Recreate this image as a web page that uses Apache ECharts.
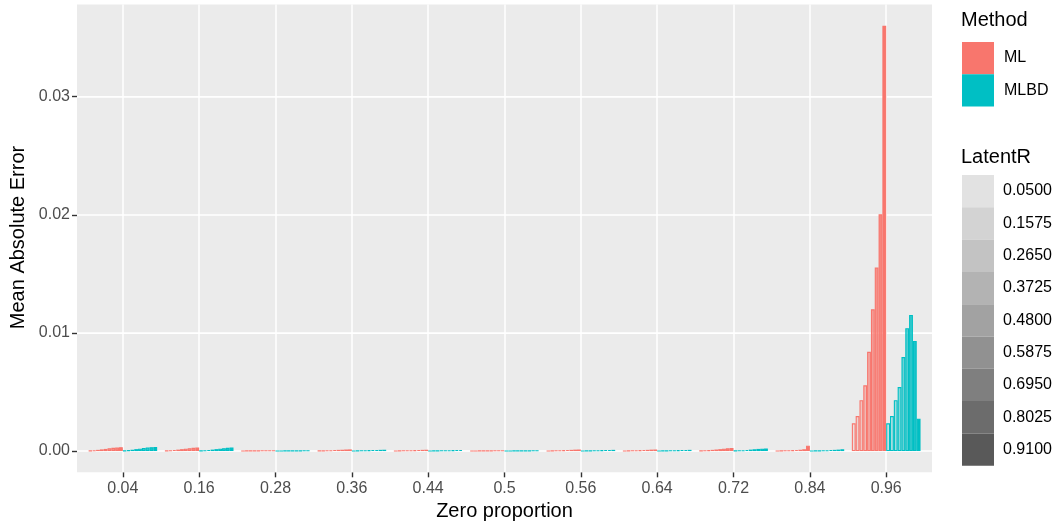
<!DOCTYPE html>
<html>
<head>
<meta charset="utf-8">
<script src="https://cdn.jsdelivr.net/npm/echarts@6.0.0/dist/echarts.min.js"></script>
<style>
html,body{margin:0;padding:0;background:#fff;}
#chart{width:1058px;height:525px;}
</style>
</head>
<body>
<div id="chart"></div>
<script>
// ---- data ----
const categories = ['0.04','0.16','0.28','0.36','0.44','0.5','0.56','0.64','0.72','0.84','0.96'];
const methods = ['ML','MLBD'];
const latentR = ['0.0500','0.1575','0.2650','0.3725','0.4800','0.5875','0.6950','0.8025','0.9100'];
const yTicks = [0, 0.01, 0.02, 0.03];
const yMinor = [0.005, 0.015, 0.025, 0.035];

// values per zero-proportion category, 9 LatentR levels each
const mlValues = [
  [0.00003,0.00006,0.0001,0.00014,0.00018,0.00023,0.00027,0.0003,0.00033],
  [0.00002,0.00005,0.00008,0.00012,0.00016,0.0002,0.00024,0.00027,0.0003],
  [0.00001,0.00002,0.00002,0.00003,0.00003,0.00004,0.00004,0.00005,0.00005],
  [0.00002,0.00003,0.00005,0.00006,0.00008,0.0001,0.00011,0.00013,0.00014],
  [0.00001,0.00002,0.00004,0.00005,0.00006,0.00007,0.00009,0.0001,0.00011],
  [0.00001,0.00001,0.00002,0.00002,0.00003,0.00003,0.00004,0.00004,0.00005],
  [0.00001,0.00003,0.00004,0.00006,0.00007,0.00009,0.0001,0.00012,0.00013],
  [0.00001,0.00003,0.00004,0.00006,0.00007,0.00009,0.0001,0.00012,0.00013],
  [0.00002,0.00004,0.00007,0.0001,0.00013,0.00016,0.0002,0.00023,0.00025],
  [0.00001,0.00002,0.00004,0.00005,0.00007,0.00009,0.00011,0.00015,0.00045],
  [0.00235,0.00296,0.0043,0.00556,0.0084,0.012,0.01553,0.02004,0.036]
];
const mlbdValues = [
  [0.00003,0.00007,0.00011,0.00016,0.0002,0.00025,0.0003,0.00033,0.00035],
  [0.00002,0.00005,0.00008,0.00012,0.00016,0.0002,0.00024,0.00027,0.00029],
  [0.00001,0.00001,0.00002,0.00002,0.00003,0.00003,0.00003,0.00004,0.00004],
  [0.00001,0.00003,0.00004,0.00005,0.00007,0.00008,0.00009,0.0001,0.00011],
  [0.00001,0.00002,0.00003,0.00004,0.00005,0.00006,0.00007,0.00008,0.00009],
  [0.00001,0.00001,0.00002,0.00002,0.00003,0.00003,0.00003,0.00004,0.00004],
  [0.00001,0.00002,0.00003,0.00005,0.00006,0.00007,0.00008,0.00009,0.0001],
  [0.00001,0.00002,0.00003,0.00005,0.00006,0.00007,0.00008,0.00009,0.0001],
  [0.00002,0.00004,0.00006,0.00009,0.00012,0.00015,0.00018,0.0002,0.00022],
  [0.00001,0.00002,0.00003,0.00005,0.00006,0.00008,0.0001,0.00012,0.00015],
  [0.00235,0.00296,0.0043,0.00542,0.00796,0.0104,0.01152,0.00932,0.00274]
];

// ---- styling ----
const FONT = '"Liberation Sans", Arial, sans-serif';
const methodColors = {ML: [248,118,109], MLBD: [0,191,196]};
const keyGrays = ['#e2e2e2','#d3d3d3','#c3c3c3','#b3b3b3','#a2a2a2','#919191','#7f7f7f','#6c6c6c','#595959'];
const alphas = latentR.map(r => 0.1 + 0.9 * (parseFloat(r) - 0.05) / 0.86);

const panel = {left: 77, right: 932, top: 4.6, bottom: 472.3};
const unit = (panel.right - panel.left) / (categories.length + 0.2);
const yMin = -0.0018, yMax = 0.0378;

const series = [];
// horizontal grid lines (full panel width)
series.push({
  type: 'line', xAxisIndex: 0, yAxisIndex: 0, data: [], silent: true,
  markLine: {
    silent: true, symbol: 'none', z: 1, animation: false,
    label: {show: false},
    data: yMinor.map(v => ({yAxis: v, lineStyle: {color: '#ffffff', width: 0.8, type: 'solid'}}))
      .concat(yTicks.map(v => ({yAxis: v, lineStyle: {color: '#ffffff', width: 1.5, type: 'solid'}})))
  }
});
// vertical grid lines at category centres
series.push({
  type: 'line', xAxisIndex: 1, yAxisIndex: 1, data: [], silent: true,
  markLine: {
    silent: true, symbol: 'none', z: 1, animation: false,
    label: {show: false},
    lineStyle: {color: '#ffffff', width: 1.5, type: 'solid'},
    data: categories.map(c => ({xAxis: c}))
  }
});
methods.forEach(m => {
  const vals = m === 'ML' ? mlValues : mlbdValues;
  const c = methodColors[m];
  latentR.forEach((r, k) => {
    series.push({
      type: 'bar', name: m + ' ' + r, xAxisIndex: 1, yAxisIndex: 1, z: 3,
      barGap: '0%', barCategoryGap: '10%',
      data: vals.map(row => row[k]),
      itemStyle: {
        color: `rgba(${c[0]},${c[1]},${c[2]},${alphas[k].toFixed(3)})`,
        borderColor: `rgb(${c[0]},${c[1]},${c[2]})`,
        borderWidth: 1.1
      }
    });
  });
});

// legends as graphics
const graphics = [];
graphics.push({type: 'text', x: 961, y: 20, style: {text: 'Method', font: `20px ${FONT}`, fill: '#000', textVerticalAlign: 'middle'}});
methods.forEach((m, i) => {
  const c = methodColors[m];
  graphics.push({type: 'rect', shape: {x: 962, y: 42 + 32.3 * i, width: 32, height: 32.3}, style: {fill: `rgb(${c[0]},${c[1]},${c[2]})`}});
  graphics.push({type: 'text', x: 1004, y: 58 + 32.3 * i, style: {text: m, font: `16px ${FONT}`, fill: '#000', textVerticalAlign: 'middle'}});
});
graphics.push({type: 'text', x: 961, y: 157, style: {text: 'LatentR', font: `20px ${FONT}`, fill: '#000', textVerticalAlign: 'middle'}});
latentR.forEach((r, i) => {
  graphics.push({type: 'rect', shape: {x: 962, y: 175 + 32.3 * i, width: 32, height: 32.3}, style: {fill: keyGrays[i]}});
  graphics.push({type: 'text', x: 1003, y: 191 + 32.3 * i, style: {text: r, font: `16px ${FONT}`, fill: '#000', textVerticalAlign: 'middle'}});
});
graphics.push({type: 'text', x: (panel.left + panel.right) / 2, y: 511, style: {text: 'Zero proportion', font: `20px ${FONT}`, fill: '#000', textAlign: 'center', textVerticalAlign: 'middle'}});
graphics.push({type: 'text', x: 18, y: 237.5, rotation: Math.PI / 2, style: {text: 'Mean Absolute Error', font: `20px ${FONT}`, fill: '#000', textAlign: 'center', textVerticalAlign: 'middle'}});

const chart = echarts.init(document.getElementById('chart'), null, {renderer: 'canvas'});
chart.setOption({
  animation: false,
  backgroundColor: '#ffffff',
  textStyle: {fontFamily: FONT},
  grid: [
    {left: panel.left, right: 1058 - panel.right, top: panel.top, bottom: 525 - panel.bottom,
     show: true, backgroundColor: '#EBEBEB', borderWidth: 0, containLabel: false},
    {left: panel.left + 0.1 * unit, right: 1058 - panel.right + 0.1 * unit, top: panel.top, bottom: 525 - panel.bottom,
     show: false, containLabel: false}
  ],
  xAxis: [
    {gridIndex: 0, type: 'value', min: 0, max: 1, show: false, axisLine: {onZero: false}},
    {gridIndex: 1, type: 'category', data: categories, position: 'bottom',
     axisLine: {show: false, onZero: false},
     axisTick: {show: true, alignWithLabel: true, length: 5, lineStyle: {color: '#333333', width: 1.4}},
     axisLabel: {color: '#4D4D4D', fontSize: 16, margin: 8, fontFamily: FONT},
     splitLine: {show: false}}
  ],
  yAxis: [
    {gridIndex: 0, type: 'value', min: yMin, max: yMax,
     axisLine: {show: false, onZero: false},
     axisTick: {show: true, customValues: yTicks, length: 5, lineStyle: {color: '#333333', width: 1.4}},
     axisLabel: {customValues: yTicks, color: '#4D4D4D', fontSize: 16, margin: 7, fontFamily: FONT,
                 formatter: v => v.toFixed(2)},
     splitLine: {show: false}, minorSplitLine: {show: false}},
    {gridIndex: 1, type: 'value', min: yMin, max: yMax, show: false, splitLine: {show: false}, axisLine: {onZero: false}}
  ],
  series: series,
  graphic: graphics
});
</script>
</body>
</html>
